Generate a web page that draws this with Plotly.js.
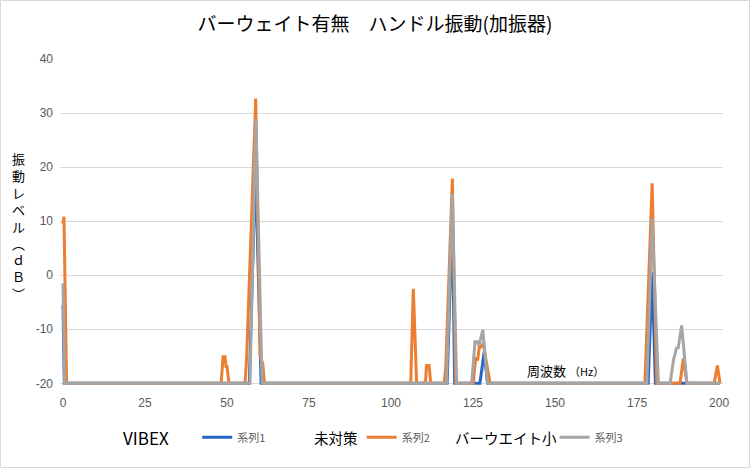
<!DOCTYPE html>
<html>
<head>
<meta charset="utf-8">
<script src="https://cdn.plot.ly/plotly-3.0.1.min.js"></script>
<style>
  html, body { margin: 0; padding: 0; background: #fff; }
  #chart { width: 750px; height: 468px; }
</style>
</head>
<body>
<div id="chart"></div>
<script>
// Frequency (Hz) / level (dB), vertices only (baseline = -20)
const freq1 = [0, 0.4, 56.8, 58.7, 60.4, 117.1, 118.7, 119.4, 127.1, 128.4, 129.4, 178.4, 179.6, 180.6, 200.3];
const vibex = [-5.5, -20, -20, 20.4, -20, -20, 11, -20, -20, -14.2, -20, -20, 0.5, -20, -20];

const freq2 = [0, 0.3, 1.1, 48.2, 48.8, 49.4, 49.7, 50.0, 50.6, 55.5, 56.0, 58.75, 60.1, 60.9, 61.4,
               106.0, 106.8, 107.8, 110.5, 110.8, 111.6, 112.1, 116.2, 116.7, 118.7, 119.7,
               125.1, 125.6, 126.1, 126.4, 126.9, 127.4, 128.1, 129.4, 130.2,
               177.4, 179.6, 181.0, 188.1, 189.1, 190.2, 198.5, 199.5, 200.3];
const untreated = [9.5, 10.8, -20, -20, -15.1, -15.1, -16.9, -16.9, -20, -20, -15.1, 32.7, -15.1, -16.3, -20,
                   -20, -2.5, -20, -20, -16.7, -16.7, -20, -20, -16.8, 17.9, -20,
                   -20, -16.4, -15.2, -15.8, -13.3, -13.3, -12.6, -17, -20,
                   -20, 17, -20, -20, -15.4, -20, -20, -16.7, -20];

const freq3 = [0, 0.5, 57.0, 58.8, 60.7, 116.9, 118.7, 120.0,
               124.6, 125.6, 126.3, 126.8, 128.0, 129.4,
               178.0, 179.6, 181.5, 185.1, 186.1, 187.1, 187.5, 188.6, 190.2, 200.3];
const weightSmall = [-1.5, -20, -20, 29, -20, -20, 15, -20,
                     -20, -12.3, -12.3, -13, -10.1, -20,
                     -20, 10.5, -20, -20, -15.7, -13.3, -13.6, -9.3, -20, -20];

const seriesNames = ['系列1', '系列2', '系列3'];
const groupLabels = ['VIBEX', '未対策', 'バーウエイト小'];
const yTicks = [-20, -10, 0, 10, 20, 30, 40];
const yTickText = ['-20', '-10', '0', '10', '20', '30', '40'];
const xTicks = [0, 25, 50, 75, 100, 125, 150, 175, 200];

const colors = ['#2566C4', '#ED7D31', '#A5A5A5'];
const font = 'Liberation Sans, Arial, sans-serif';
const jpFont = 'Noto Sans CJK JP, sans-serif';

const traces = [
  { x: freq1, y: vibex, name: seriesNames[0], legend: 'legend' },
  { x: freq2, y: untreated, name: seriesNames[1], legend: 'legend2' },
  { x: freq3, y: weightSmall, name: seriesNames[2], legend: 'legend3' }
].map((t, i) => Object.assign(t, {
  type: 'scatter',
  mode: 'lines',
  line: { color: colors[i], width: 3 },
  hoverinfo: 'skip'
}));

const legendBase = {
  orientation: 'h',
  yanchor: 'middle',
  y: -0.157,
  xanchor: 'left',
  bgcolor: 'rgba(0,0,0,0)',
  font: { family: jpFont, size: 11, color: '#595959' }
};

const layout = {
  width: 750,
  height: 468,
  paper_bgcolor: '#fff',
  plot_bgcolor: '#fff',
  margin: { l: 60, r: 27, t: 59, b: 82 },
  title: {
    text: 'バーウェイト有無　ハンドル振動(加振器)',
    font: { family: jpFont, size: 19, color: '#000' },
    x: 0.5, xref: 'container', xanchor: 'center',
    y: 0.947, yref: 'container', yanchor: 'middle'
  },
  xaxis: {
    range: [-0.91, 201.2],
    tickvals: xTicks,
    showgrid: false,
    zeroline: false,
    showline: false,
    ticks: '',
    ticklabelstandoff: 8,
    tickfont: { family: font, size: 12, color: '#595959' }
  },
  yaxis: {
    range: [-20.5, 40],
    tickvals: yTicks,
    ticktext: yTickText,
    showgrid: true,
    gridcolor: '#D9D9D9',
    gridwidth: 1,
    zeroline: false,
    showline: false,
    ticks: '',
    ticklabelstandoff: 6,
    tickfont: { family: font, size: 12, color: '#595959' }
  },
  legend: Object.assign({}, legendBase, { x: 0.207 }),
  legend2: Object.assign({}, legendBase, { x: 0.455 }),
  legend3: Object.assign({}, legendBase, { x: 0.746 }),
  annotations: [
    { text: groupLabels[0], x: 0.129, y: -0.157, size: 17 },
    { text: groupLabels[1], x: 0.416, y: -0.157, size: 14.5 },
    { text: groupLabels[2], x: 0.672, y: -0.157, size: 14.5 }
  ].map(a => ({
    text: a.text, x: a.x, y: a.y,
    xref: 'paper', yref: 'paper', showarrow: false,
    xanchor: 'center', yanchor: 'middle',
    font: { family: jpFont, size: a.size, color: '#000' }
  })).concat([
    {
      text: '周波数 <span style="font-size:11px">（Hz）</span>',
      xref: 'paper', yref: 'paper', x: 0.762, y: 0.048,
      showarrow: false, xanchor: 'center', yanchor: 'middle',
      font: { family: jpFont, size: 13, color: '#000' }
    },
    {
      text: '振<br>動<br>レ<br>ベ<br>ル<br>︵<br>ｄ<br>Ｂ<br>︶',
      xref: 'paper', yref: 'paper', x: -0.063, y: 0.49,
      showarrow: false, xanchor: 'center', yanchor: 'middle',
      font: { family: jpFont, size: 13, color: '#000' }
    }
  ]),
  shapes: [{
    type: 'rect', xref: 'paper', yref: 'paper',
    x0: -59.5 / 663, x1: 689.5 / 663,
    y0: -81.5 / 327, y1: 1 + 58.5 / 327,
    line: { color: '#D9D9D9', width: 1 }
  }],
  showlegend: true
};

Plotly.newPlot('chart', traces, layout, { displayModeBar: false, staticPlot: true });
</script>
</body>
</html>
